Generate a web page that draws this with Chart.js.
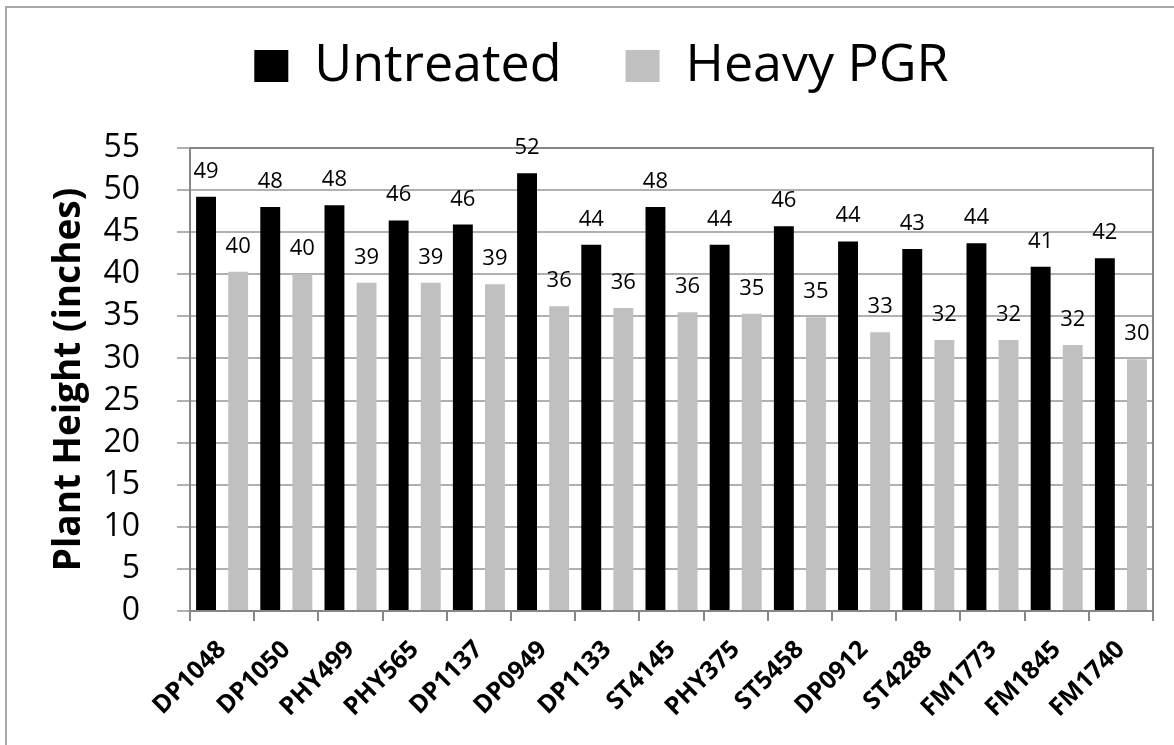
<!DOCTYPE html>
<html><head><meta charset="utf-8">
<script src="https://cdn.jsdelivr.net/npm/chart.js@4"></script>
<style>
html,body{margin:0;padding:0;background:#fff;}
#wrap{position:relative;width:1174px;height:745px;overflow:hidden;background:#fff;}
#frame{position:absolute;left:5px;top:6px;width:1300px;height:900px;border-left:2px solid #a9a9a9;border-top:2px solid #a9a9a9;}
canvas{position:absolute;left:0;top:0;}
</style></head><body>
<div id="wrap"><div id="frame"></div><canvas id="c" width="1174" height="745"></canvas></div>
<script>
const categories = ['DP1048','DP1050','PHY499','PHY565','DP1137','DP0949','DP1133','ST4145','PHY375','ST5458','DP0912','ST4288','FM1773','FM1845','FM1740'];
const untreated = [49.2, 48.0, 48.2, 46.4, 45.9, 52.0, 43.5, 48.0, 43.5, 45.7, 43.9, 43.0, 43.7, 40.9, 41.9];
const heavyPGR = [40.3, 40.0, 39.0, 39.0, 38.8, 36.2, 36.0, 35.5, 35.3, 34.9, 33.1, 32.2, 32.2, 31.6, 29.9];
const seriesNames = ['Untreated', 'Heavy PGR'];
const yMin = 0, yMax = 55, yStep = 5;
const yTitle = 'Plant Height (inches)';

const dataLabels = {
  id: 'dataLabels',
  afterDatasetsDraw(chart) {
    const ctx = chart.ctx;
    ctx.save();
    ctx.font = '22px "Open Sans"';
    ctx.fillStyle = '#000';
    ctx.textAlign = 'center';
    ctx.textBaseline = 'alphabetic';
    chart.data.datasets.forEach((ds, i) => {
      chart.getDatasetMeta(i).data.forEach((bar, j) => {
        ctx.fillText(String(Math.round(ds.data[j])), bar.x, bar.y - 19);
      });
    });
    ctx.restore();
  }
};
const plotBorder = {
  id: 'plotBorder',
  beforeDatasetsDraw(chart) {
    const a = chart.chartArea, ctx = chart.ctx;
    ctx.save();
    ctx.strokeStyle = '#868686';
    ctx.lineWidth = 2;
    ctx.strokeRect(a.left, a.top, a.right - a.left, a.bottom - a.top);
    ctx.restore();
  }
};
const legendShift = {
  id: 'legendShift',
  afterLayout(chart) {
    const lg = chart.legend;
    lg.top -= 46; lg.bottom -= 46;
    lg.left += 25; lg.right += 25;
  }
};

new Chart(document.getElementById('c'), {
  type: 'bar',
  data: {
    labels: categories,
    datasets: [
      { label: seriesNames[0], data: untreated, backgroundColor: '#000000', borderWidth: 0 },
      { label: seriesNames[1], data: heavyPGR, backgroundColor: '#c0c0c0', borderWidth: 0 }
    ]
  },
  options: {
    responsive: false,
    animation: false,
    devicePixelRatio: 1,
    categoryPercentage: 1.0,
    barPercentage: 0.62,
    layout: { padding: { top: 22, left: 0, right: 21, bottom: 0 } },
    plugins: {
      tooltip: { enabled: false },
      legend: {
        position: 'top',
        labels: {
          font: { family: 'Open Sans', size: 52 },
          color: '#000',
          boxWidth: 34,
          boxHeight: 32,
          padding: 64
        }
      }
    },
    scales: {
      x: {
        grid: { drawOnChartArea: false, drawTicks: true, tickLength: 10, color: '#868686', lineWidth: 2 },
        border: { display: false },
        ticks: {
          autoSkip: false, minRotation: 45, maxRotation: 45, padding: 14,
          color: '#000', font: { family: 'Open Sans', size: 25, weight: 'bold' }
        },
        afterFit(s) { s.height = 134; }
      },
      y: {
        min: yMin, max: yMax,
        grid: { color: '#b0b0b0', lineWidth: 2, tickLength: 13 },
        border: { display: false },
        ticks: { stepSize: yStep, padding: 37, color: '#000', font: { family: 'Open Sans', size: 32 } },
        title: {
          display: true, text: yTitle, color: '#000',
          font: { family: 'Open Sans', size: 37, weight: 'bold' },
          padding: { top: 47, bottom: 0 }
        },
        afterFit(s) { s.width = 190; }
      }
    }
  },
  plugins: [dataLabels, plotBorder, legendShift]
});
</script>
</body></html>
